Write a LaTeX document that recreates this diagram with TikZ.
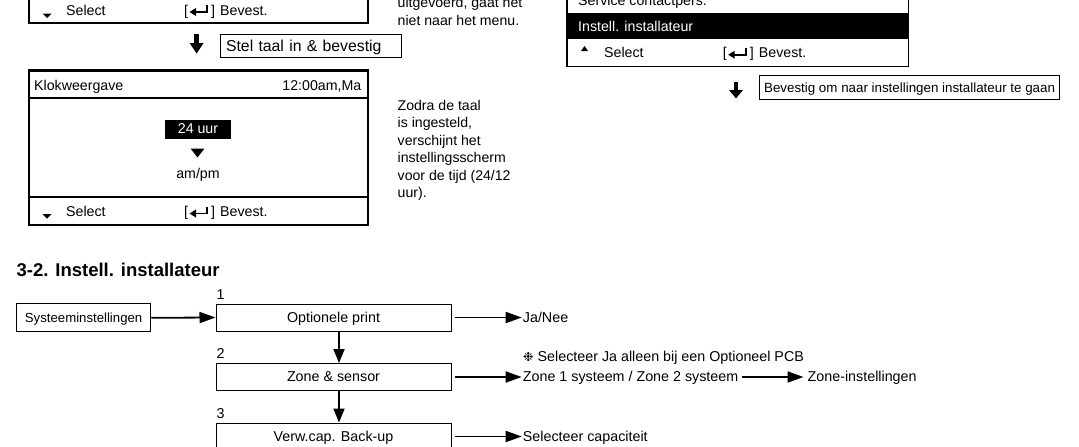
\documentclass[tikz,border=0pt]{standalone}
\usepackage{fontspec}
\setmainfont{Liberation Sans}
\newfontfamily\dingfont{DejaVu Sans}
\usetikzlibrary{arrows.meta}
\begin{document}
\begin{tikzpicture}[x=1pt,y=-1pt,
  lcdtxt/.style={inner sep=0pt,font=\fontsize{14.2}{17}\selectfont},
  notetxt/.style={inner sep=0pt,anchor=base west,font=\fontsize{14.1}{17.5}\selectfont},
  flowtxt/.style={inner sep=0pt,anchor=base west,font=\fontsize{14.3}{17}\selectfont},
  lcdframe/.style={line width=2.2pt},
  hintbox/.style={draw,line width=1.1pt,inner ysep=0pt,text height=17pt,anchor=north west},
  flowbox/.style={draw,line width=1pt,inner xsep=0pt,inner ysep=0pt,text height=18pt,text depth=9pt,font=\fontsize{14.3}{17}\selectfont},
  harrow/.style={line width=1.8pt,-{Triangle[length=16pt,width=11pt]}},
  varrow/.style={line width=1.8pt,-{Triangle[length=14pt,width=11pt]}},
  enterkey/.pic={
    \node[lcdtxt,anchor=base west] (-open) at (0,0) {[};
    \node[lcdtxt,anchor=base west] (-close) at (27,0) {]};
    \node[lcdtxt,anchor=base west] (-label) at (36,0) {Bevest.};
    \draw[line width=1.8pt] (10,-3) -- (23,-3) -- (23,-10);
    \fill (5.5,-3) -- (12,-7) -- (12,1) -- cycle;
  },
]
\useasboundingbox (0,0) rectangle (1079,447);
\clip (0,0) rectangle (1079,447);

% ---- language screen (footer only) ----
\draw[lcdframe] (28.6,-40) rectangle (367.8,23.3);
\fill (42.5,13.5) -- (51.5,13.5) -- (47,18) -- cycle;
\node[lcdtxt,anchor=base west] (selA) at (66,15) {Select};
\pic (entA) at (184,15) {enterkey};
\node[notetxt] (noteA1) at (397.5,8) {uitgevoerd, gaat het};
\node[notetxt] (noteA2) at (397.5,25.5) {niet naar het menu.};

% step arrow and hint
\fill (194.2,34) rectangle (199,44);
\fill (189.6,43) -- (203.6,43) -- (196.6,53.5) -- cycle;
\node[hintbox,inner xsep=5.5pt,text width=170pt,text depth=6.5pt,align=left,
      font=\fontsize{15.8}{18}\selectfont] (stel) at (220,33.5) {Stel taal in \& bevestig};

% ---- clock screen ----
\draw[lcdframe] (28.6,70.5) rectangle (367.8,225);
\draw[line width=2pt] (28.6,97.5) -- (367.8,97.5);
\draw[line width=2pt] (28.6,197) -- (367.8,197);
\node[lcdtxt,anchor=base west] (klok) at (34,90) {Klokweergave};
\node[lcdtxt,anchor=base east] (klokt) at (361.5,90) {12:00am,Ma};
\node[lcdtxt,fill=black,text=white,minimum width=66pt,text height=13.5pt,text depth=5pt] (h24) at (198,129.25) {24 uur};
\fill (190.5,148.5) -- (204.5,148.5) -- (197.5,157.5) -- cycle;
\node[lcdtxt,anchor=base] (ampm) at (198,178.5) {am/pm};
\fill (42.5,214) -- (51.5,214) -- (47,218.5) -- cycle;
\node[lcdtxt,anchor=base west] (selB) at (66,216.5) {Select};
\pic (entB) at (184,216.5) {enterkey};
\foreach \ln [count=\k] in {{Zodra de taal},{is ingesteld,},{verschijnt het},{instellingsscherm},{voor de tijd (24/12},{uur).}}
  \node[notetxt] (zodra\k) at (397.5,{110+17.5*(\k-1)}) {\ln};

% ---- main menu screen (bottom part) ----
\draw[line width=1.3pt] (567,-30) rectangle (908.5,66.7);
\fill (567,13.3) rectangle (908.5,39.3);
\node[lcdtxt,anchor=base west] (svc) at (578,5.5) {Service contactpers.};
\node[lcdtxt,anchor=base west,text=white] (inst) at (578,31.3) {Instell. installateur};
\fill (581,51) -- (588,51) -- (584.5,46) -- cycle;
\node[lcdtxt,anchor=base west] (selC) at (604,57.7) {Select};
\pic (entC) at (722.7,57.7) {enterkey};

\fill (733.6,82) rectangle (738.4,91);
\fill (729,90) -- (743,90) -- (736,98.5) -- cycle;
\node[hintbox,inner xsep=0pt,minimum width=300pt,text depth=7.3pt,
      font=\fontsize{13.35}{16}\selectfont] (bev) at (759,75) {Bevestig om naar instellingen installateur te gaan};

% ---- 3-2 installer settings flow ----
\node[inner sep=0pt,anchor=base west,font=\bfseries\fontsize{18.5}{20}\selectfont] (title) at (16.5,276.5) {3-2. Instell. installateur};

\node[flowbox,minimum width=134.3pt,text height=18.35pt,text depth=9.35pt,font=\fontsize{13.2}{16}\selectfont] (syst) at (83.6,317.8) {Systeeminstellingen};
\node[flowbox,minimum width=235pt] (opt) at (333.5,317.5) {Optionele print};
\node[flowbox,minimum width=235pt] (zone) at (333.5,377) {Zone \& sensor};
\node[flowbox,minimum width=235pt] (verw) at (333.5,436.5) {Verw.cap. Back-up};

\node[flowtxt] (n1) at (216.5,299.5) {1};
\node[flowtxt] (n2) at (216.5,358.5) {2};
\node[flowtxt] (n3) at (216.5,418.5) {3};

\node[flowtxt] (janee) at (522.7,322.5) {Ja/Nee};
\node[flowtxt] (pcbnote) at (523,361.5) {{\dingfont\fontsize{12.5}{12}\selectfont ❉} Selecteer Ja alleen bij een Optioneel PCB};
\node[flowtxt] (zsys) at (522.7,381.5) {Zone 1 systeem / Zone 2 systeem};
\node[flowtxt] (zinst) at (807.5,381.5) {Zone-instellingen};
\node[flowtxt] (cap) at (522.7,441) {Selecteer capaciteit};

\draw[harrow] (syst.east) -- (opt.west);
\draw[harrow,shorten >=1pt] ([xshift=3pt]opt.east) -- (opt.east -| janee.west);
\draw[varrow] ([xshift=5.5pt]opt.south) -- ([xshift=5.5pt]zone.north);
\draw[harrow,shorten >=1pt] ([xshift=3pt]zone.east) -- (zone.east -| zsys.west);
\draw[harrow] ([xshift=4pt]zsys.east |- zone.east) -- ([xshift=-4pt]zinst.west |- zone.east);
\draw[varrow] ([xshift=5.5pt]zone.south) -- ([xshift=5.5pt]verw.north);
\draw[harrow,shorten >=1pt] ([xshift=3pt]verw.east) -- (verw.east -| cap.west);
\end{tikzpicture}
\end{document}
